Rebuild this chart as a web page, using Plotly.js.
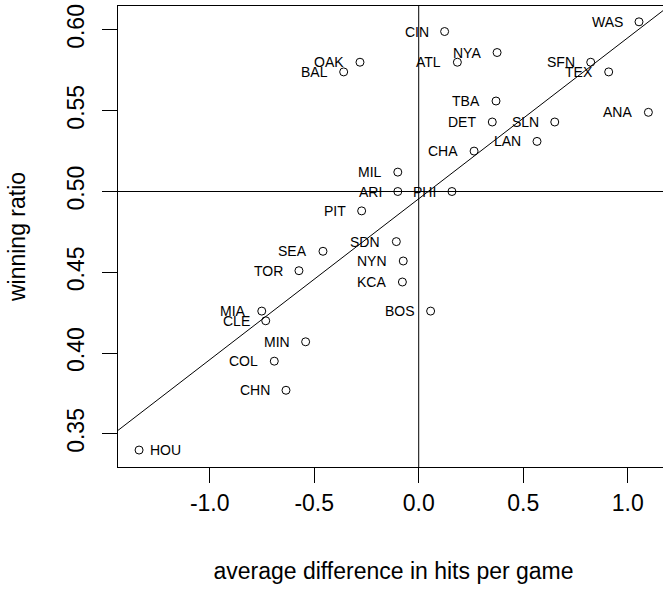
<!DOCTYPE html>
<html>
<head>
<meta charset="utf-8">
<script src="https://cdn.plot.ly/plotly-3.0.1.min.js"></script>
<style>
html,body{margin:0;padding:0;overflow:hidden;background:#fff;}
#chart{width:672px;height:594px;}
</style>
</head>
<body>
<div id="chart"></div>
<script>
// ---- data ----
var teams = ["WAS","CIN","NYA","ATL","SFN","OAK","TEX","BAL","TBA","ANA",
             "DET","SLN","LAN","CHA","MIL","ARI","PHI","PIT","SDN","SEA",
             "NYN","TOR","KCA","BOS","MIA","CLE","MIN","COL","CHN","HOU"];
var hitsDiff = [1.054,0.124,0.375,0.185,0.823,-0.281,0.909,-0.359,0.370,1.099,
                0.352,0.651,0.566,0.265,-0.100,-0.100,0.159,-0.273,-0.107,-0.458,
                -0.074,-0.573,-0.078,0.057,-0.751,-0.732,-0.541,-0.691,-0.635,-1.338];
var winRatio = [0.605,0.599,0.586,0.580,0.580,0.580,0.574,0.574,0.556,0.549,
                0.543,0.543,0.531,0.525,0.512,0.500,0.500,0.488,0.469,0.463,
                0.457,0.451,0.444,0.426,0.426,0.420,0.407,0.395,0.377,0.340];
var xTickVals = [-1.0,-0.5,0.0,0.5,1.0];
var xTickText = ["-1.0","-0.5","0.0","0.5","1.0"];
var yTickVals = [0.35,0.40,0.45,0.50,0.55,0.60];
var yTickText = ["0.35","0.40","0.45","0.50","0.55","0.60"];
var fitIntercept = 0.4955;
var fitSlope = 0.0996;
var refH = 0.5;   // horizontal reference line
var refV = 0.0;   // vertical reference line
var rightLabelTeams = ["HOU"];

// ---- chart ----
var FONT = "Liberation Sans, Arial, Helvetica, sans-serif";
var xRange = [-1.4388, 1.1976];
var yRange = [0.32952, 0.61479];

var pts = {
  x: hitsDiff, y: winRatio, mode: "markers", type: "scatter",
  marker: {symbol: "circle-open", size: 8, color: "#000", line: {width: 1, color: "#000"}},
  hoverinfo: "text", text: teams, cliponaxis: false
};
var fit = {
  x: xRange, y: xRange.map(function(v){ return fitIntercept + fitSlope * v; }),
  mode: "lines", type: "scatter", line: {color: "#000", width: 1}, hoverinfo: "skip"
};

var annotations = teams.map(function(t, i){
  var right = rightLabelTeams.indexOf(t) >= 0;
  return {
    x: hitsDiff[i], y: winRatio[i], xref: "x", yref: "y", text: t, showarrow: false,
    xanchor: right ? "left" : "right", yanchor: "middle",
    xshift: right ? 9 : -14, font: {family: FONT, size: 14, color: "#000"}
  };
});

var layout = {
  width: 672, height: 594,
  margin: {l: 118, r: 3, t: 6, b: 127},
  paper_bgcolor: "#fff", plot_bgcolor: "#fff",
  showlegend: false,
  font: {family: FONT, color: "#000"},
  xaxis: {
    range: xRange, autorange: false, showgrid: false, zeroline: false,
    showline: true, mirror: true, linecolor: "#000", linewidth: 1,
    ticks: "outside", ticklen: 15, tickwidth: 1, tickcolor: "#000",
    tickvals: xTickVals, ticktext: xTickText,
    tickfont: {family: FONT, size: 23, color: "#000"}, ticklabelstandoff: 0,
    title: {text: "average difference in hits per game", font: {family: FONT, size: 23, color: "#000"}, standoff: 48},
    automargin: false
  },
  yaxis: {
    range: yRange, autorange: false, showgrid: false, zeroline: false,
    showline: true, mirror: true, linecolor: "#000", linewidth: 1,
    ticks: "outside", ticklen: 15, tickwidth: 1, tickcolor: "#000",
    tickvals: yTickVals, ticktext: yTickText, tickangle: -90,
    tickfont: {family: FONT, size: 23, color: "#000"}, ticklabelstandoff: 9,
    title: {text: "winning ratio", font: {family: FONT, size: 23, color: "#000"}, standoff: 30},
    automargin: false
  },
  shapes: [
    {type: "line", xref: "paper", x0: 0, x1: 1, yref: "y", y0: refH, y1: refH, line: {color: "#000", width: 1}},
    {type: "line", yref: "paper", y0: 0, y1: 1, xref: "x", x0: refV, x1: refV, line: {color: "#000", width: 1}}
  ],
  annotations: annotations
};

Plotly.newPlot("chart", [fit, pts], layout, {staticPlot: true, displayModeBar: false});
</script>
</body>
</html>
